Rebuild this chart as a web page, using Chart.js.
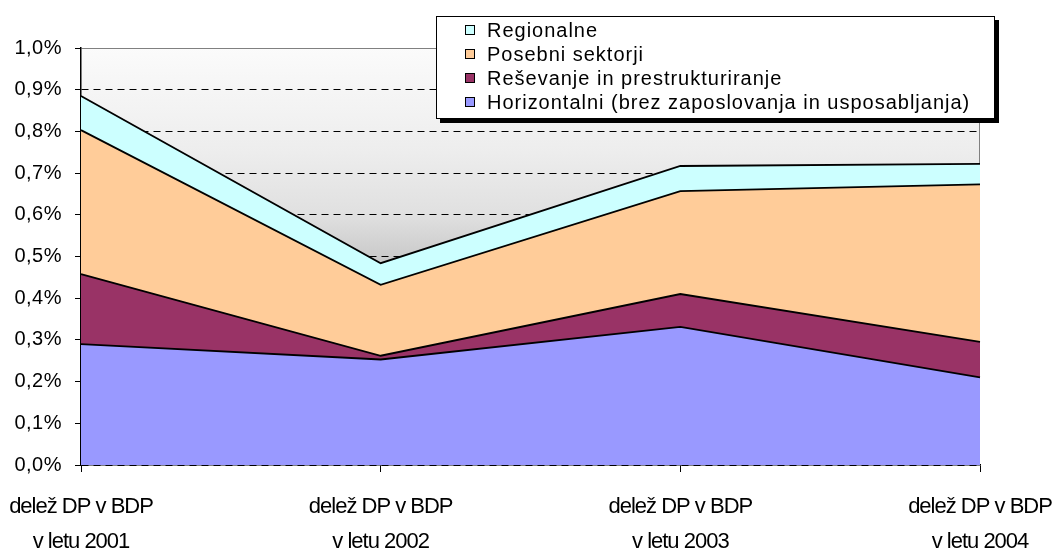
<!DOCTYPE html>
<html lang="sl">
<head>
<meta charset="UTF-8">
<title>Delež DP v BDP</title>
<script src="https://cdn.jsdelivr.net/npm/chart.js"></script>
<style>
  html, body { margin: 0; padding: 0; background: #fff; }
  .wrap { position: relative; width: 1056px; height: 551px; }
</style>
</head>
<body>
<div class="wrap"><canvas id="chart" width="1056" height="551"></canvas></div>
<script>
  // data (share of GDP, in %)
  const years = ['2001', '2002', '2003', '2004'];
  const xLabels = years.map(y => ['delež DP v BDP', 'v letu ' + y]);
  const horizontalni = [0.290, 0.253, 0.331, 0.210];
  const resevanje = [0.168, 0.009, 0.079, 0.085];
  const posebni = [0.345, 0.170, 0.247, 0.378];
  const regionalne = [0.082, 0.052, 0.060, 0.049];
  const yMax = 1.0;
  const yStep = 0.1;

  const FONT = 'Arial, "Liberation Sans", sans-serif';

  // plot background: light at top, grey further down
  const bgPlugin = {
    id: 'bg',
    beforeDraw(chart) {
      const { ctx, chartArea: a } = chart;
      const g = ctx.createLinearGradient(0, a.top, 0, a.bottom);
      g.addColorStop(0, '#fbfbfb');
      g.addColorStop(0.25, '#ededed');
      g.addColorStop(0.4, '#e0e0e0');
      g.addColorStop(0.5, '#cbcbcb');
      g.addColorStop(1, '#959595');
      ctx.save();
      ctx.fillStyle = g;
      ctx.fillRect(a.left, a.top, a.right - a.left, a.bottom - a.top);
      ctx.restore();

      // letter spacing on tick labels
      const patch = (scale, sp) => {
        if (scale._spPatched) return;
        const orig = scale.drawLabels;
        scale.drawLabels = function (area) {
          this.ctx.save();
          this.ctx.letterSpacing = sp;
          orig.call(this, area);
          this.ctx.restore();
        };
        scale._spPatched = true;
      };
      patch(chart.scales.y, '0.5px');
      patch(chart.scales.x, '-1px');
    },
    beforeDatasetsDraw(chart) {
      const { ctx, chartArea: a } = chart;
      ctx.save();
      ctx.strokeStyle = '#808080';
      ctx.lineWidth = 1;
      ctx.beginPath();
      ctx.moveTo(a.right - 0.5, a.top);
      ctx.lineTo(a.right - 0.5, a.bottom);
      ctx.stroke();
      ctx.restore();
    }
  };

  // framed legend with shadow, overlapping the plot
  const legendPlugin = {
    id: 'boxLegend',
    afterDraw(chart) {
      const ctx = chart.ctx;
      const x = 436, y = 16, w = 559, h = 103;
      ctx.save();
      ctx.fillStyle = '#000';
      ctx.fillRect(x + 4, y + 4, w, h);
      ctx.fillStyle = '#fff';
      ctx.fillRect(x, y, w, h);
      ctx.strokeStyle = '#000';
      ctx.lineWidth = 1;
      ctx.strokeRect(x + 0.5, y + 0.5, w - 1, h - 1);

      const items = chart.data.datasets.slice().reverse();
      ctx.font = '20px ' + FONT;
      const longest = Math.max(...items.map(d => ctx.measureText(d.label).width));
      const maxLen = Math.max(...items.map(d => d.label.length));
      ctx.letterSpacing = ((483 - longest) / maxLen).toFixed(2) + 'px';
      ctx.textBaseline = 'middle';
      items.forEach((d, i) => {
        const cy = 30 + i * 24;
        ctx.fillStyle = d.backgroundColor;
        ctx.fillRect(465, cy - 5, 10, 10);
        ctx.strokeStyle = '#000';
        ctx.strokeRect(465.5, cy - 4.5, 9, 9);
        ctx.fillStyle = '#000';
        ctx.fillText(d.label, 487, cy + 1);
      });
      ctx.restore();
    }
  };

  const area = (label, data, color, fill) => ({
    label: label,
    data: data,
    backgroundColor: color,
    borderColor: '#000',
    borderWidth: 1.8,
    pointRadius: 0,
    tension: 0,
    fill: fill
  });

  new Chart(document.getElementById('chart'), {
    type: 'line',
    data: {
      labels: xLabels,
      datasets: [
        area('Horizontalni (brez zaposlovanja in usposabljanja)', horizontalni, '#9999ff', 'origin'),
        area('Reševanje in prestrukturiranje', resevanje, '#993366', '-1'),
        area('Posebni sektorji', posebni, '#ffcc99', '-1'),
        area('Regionalne', regionalne, '#ccffff', '-1')
      ]
    },
    options: {
      responsive: false,
      animation: false,
      devicePixelRatio: 1,
      layout: { padding: { top: 48, right: 76, left: 0, bottom: 0 } },
      plugins: { legend: { display: false }, tooltip: { enabled: false } },
      scales: {
        x: {
          offset: false,
          grid: { drawOnChartArea: false, color: '#000', tickLength: 7 },
          border: { color: '#000', width: 1.5 },
          ticks: {
            color: '#000', maxRotation: 0, autoSkip: false, padding: 17,
            font: { family: FONT, size: 22, lineHeight: 35 / 22 }
          },
          afterFit(s) { s.height = 86; s.paddingLeft = 0; s.paddingRight = 0; }
        },
        y: {
          stacked: true,
          min: 0,
          max: yMax,
          grid: {
            color: c => (c.tick && c.tick.value >= yMax - 0.001) ? '#808080' : '#000',
            tickColor: '#000',
            tickLength: 6,
            lineWidth: 1
          },
          border: {
            color: '#000', width: 1.5,
            dash: c => (c.tick && c.tick.value >= yMax - 0.001) ? [] : [7, 5]
          },
          ticks: {
            stepSize: yStep, color: '#000', padding: 13,
            font: { family: FONT, size: 20 },
            callback: v => v.toFixed(1).replace('.', ',') + '%'
          },
          afterFit(s) { s.width = 81; s.paddingTop = 0; s.paddingBottom = 0; }
        }
      }
    },
    plugins: [bgPlugin, legendPlugin]
  });
</script>
</body>
</html>
